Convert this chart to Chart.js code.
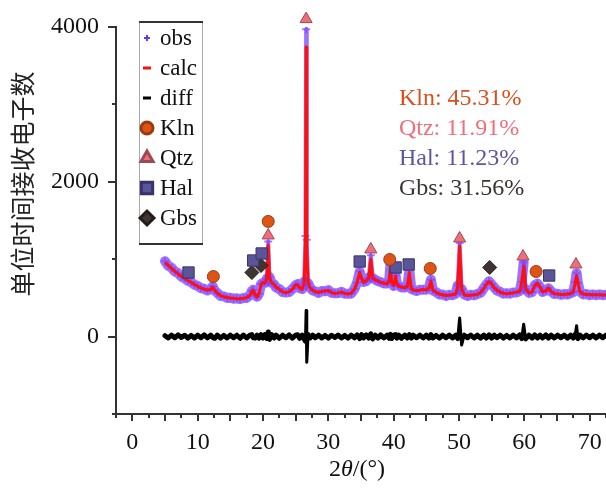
<!DOCTYPE html>
<html>
<head>
<meta charset="utf-8">
<script src="https://cdn.jsdelivr.net/npm/chart.js@4.4.0/dist/chart.umd.min.js"></script>
<style>
  html, body { margin: 0; padding: 0; background: #fff; }
  #wrap { width: 606px; height: 488px; }
</style>
</head>
<body>
<div id="wrap"><canvas id="xrdChart" width="606" height="488"></canvas></div>
<script>
// 2theta positions of the measured profile
const angles = [
  5.0, 5.5, 6.0, 6.5, 7.0, 7.5, 8.0, 8.5, 9.0, 9.5,
  10.0, 10.5, 11.0, 11.5, 12.0, 12.3, 12.6, 13.0, 13.5, 14.0,
  14.5, 15.0, 15.5, 16.0, 16.5, 17.0, 17.5, 18.0, 18.3, 18.5,
  18.8, 19.1, 19.4, 19.7, 20.0, 20.3, 20.6, 20.8, 21.0, 21.3,
  21.7, 22.0, 22.5, 23.0, 23.5, 24.0, 24.5, 25.0, 25.3, 25.6,
  26.0, 26.3, 26.5, 26.6, 26.7, 26.9, 27.2, 27.6, 28.0, 28.5,
  29.0, 29.5, 30.0, 30.5, 31.0, 31.5, 32.0, 32.5, 33.0, 33.5,
  34.0, 34.4, 34.8, 35.1, 35.4, 35.8, 36.2, 36.5, 36.8, 37.2,
  37.6, 38.0, 38.5, 39.0, 39.3, 39.5, 39.7, 40.0, 40.3, 40.5,
  40.8, 41.2, 41.7, 42.1, 42.4, 42.7, 43.0, 43.5, 44.0, 44.5,
  45.0, 45.4, 45.7, 46.0, 46.5, 47.0, 47.5, 48.0, 48.5, 49.0,
  49.5, 49.8, 50.1, 50.4, 50.8, 51.3, 51.8, 52.3, 52.8, 53.3,
  53.8, 54.2, 54.6, 55.0, 55.4, 55.8, 56.3, 56.8, 57.3, 57.8,
  58.3, 58.8, 59.3, 59.6, 59.9, 60.2, 60.7, 61.2, 61.6, 62.0,
  62.4, 62.8, 63.3, 63.7, 64.1, 64.6, 65.1, 65.6, 66.1, 66.6,
  67.1, 67.5, 67.8, 68.0, 68.2, 68.5, 69.0, 69.5, 70.0, 70.5,
  71.0, 71.5, 72.0, 72.5
];

const obsCounts = [
  975, 915, 890, 840, 820, 775, 755, 720, 705, 670,
  655, 625, 618, 595, 615, 650, 595, 565, 525, 520,
  500, 502, 490, 495, 485, 500, 500, 535, 590, 605,
  535, 515, 555, 680, 695, 695, 750, 1230, 770, 695,
  675, 635, 615, 575, 570, 575, 615, 665, 680, 625,
  615, 710, 1300, 3970, 1250, 690, 635, 595, 585, 565,
  590, 585, 600, 565, 560, 560, 580, 555, 555, 555,
  615, 695, 840, 745, 705, 715, 765, 1050, 755, 735,
  715, 705, 685, 685, 715, 930, 705, 655, 790, 675,
  655, 635, 635, 645, 860, 615, 605, 590, 605, 605,
  605, 625, 735, 595, 575, 545, 545, 525, 540, 535,
  555, 660, 1210, 615, 545, 525, 540, 535, 550, 565,
  625, 675, 715, 675, 635, 595, 580, 555, 560, 555,
  570, 570, 590, 710, 960, 615, 565, 575, 665, 685,
  645, 575, 595, 625, 585, 550, 555, 540, 550, 545,
  560, 575, 710, 820, 695, 585, 545, 550, 535, 545,
  535, 545, 535, 540
];

const calcCounts = [
  960, 920, 880, 845, 810, 780, 750, 725, 700, 675,
  650, 630, 612, 600, 610, 640, 600, 560, 530, 515,
  505, 498, 495, 490, 490, 495, 505, 530, 580, 600,
  540, 510, 560, 670, 700, 690, 760, 1180, 760, 700,
  670, 640, 610, 580, 565, 580, 610, 670, 670, 630,
  610, 700, 1200, 3740, 1150, 700, 630, 600, 580, 570,
  585, 590, 595, 570, 555, 565, 575, 560, 550, 560,
  610, 700, 830, 750, 700, 720, 760, 1000, 760, 730,
  720, 700, 690, 680, 720, 900, 700, 660, 780, 680,
  650, 640, 630, 650, 830, 620, 600, 595, 600, 610,
  600, 630, 720, 600, 570, 550, 540, 530, 535, 540,
  550, 650, 1170, 620, 540, 530, 535, 540, 545, 570,
  620, 680, 710, 680, 630, 600, 575, 560, 555, 560,
  565, 575, 585, 700, 910, 620, 560, 580, 660, 690,
  640, 580, 590, 630, 580, 555, 550, 545, 545, 550,
  555, 580, 700, 790, 700, 580, 550, 545, 540, 540,
  540, 540, 538, 538
];

const diffCounts = [
  12, -18, 20, -15, 22, -12, 18, -20, 15, -18,
  18, -15, 22, -18, 20, -12, -22, 18, -20, 15,
  -18, 20, -15, 18, -22, 20, -18, 18, 25, -15,
  -20, 18, -20, 25, -20, 25, -25, 60, -35, 25,
  -18, 20, -22, 18, -15, 22, -20, 18, 25, -22,
  18, -30, -60, 336, -330, 25, -18, 20, -15, 18,
  -18, 15, -20, 18, -12, 20, -18, 15, -20, 18,
  -15, 22, -25, 25, -18, 22, -20, 35, -30, 18,
  -20, 22, -18, 20, -22, 28, -25, 18, 25, -20,
  18, -22, 20, -18, 25, -20, 18, -15, 20, -18,
  18, -20, 25, -18, 15, -20, 18, -15, 20, -18,
  18, -25, 240, -110, 18, -15, 20, -18, 18, -20,
  20, -18, 22, -20, 18, -15, 18, -20, 15, -18,
  20, -18, 22, -25, 160, -30, 18, -20, 22, -18,
  20, -18, 22, -20, 18, -18, 20, -15, 18, -20,
  18, -18, 30, 140, -25, 20, -18, 20, -15, 18,
  -18, 20, -15, 18
];

// phase reflection markers
const klnAngles = [12.4, 20.8, 39.4, 45.6, 61.8];
const klnCounts = [776, 1488, 996, 880, 841];
const qtzAngles = [20.8, 26.6, 36.5, 50.1, 59.8, 67.9];
const qtzCounts = [1307, 4102, 1126, 1268, 1035, 932];
const halAngles = [8.6, 18.5, 19.8, 34.8, 40.3, 42.3, 63.8];
const halCounts = [828, 983, 1074, 970, 893, 932, 789];
const gbsAngles = [18.3, 19.7, 54.7];
const gbsCounts = [828, 919, 893];

const phaseNames = ['Kln', 'Qtz', 'Hal', 'Gbs'];
const phasePercents = [45.31, 11.91, 11.23, 31.56];

const xTickLabels = [0, 10, 20, 30, 40, 50, 60, 70];
const yTickLabels = [0, 2000, 4000];

const serif = "'Liberation Serif', 'Times New Roman', serif";
const phaseColors = {
  Kln: { fill: '#dd5516', line: '#9a3a12', text: '#d9501e' },
  Qtz: { fill: '#ee6e7a', line: '#9c4b55', text: '#ef6f7b' },
  Hal: { fill: '#5a5598', line: '#37346a', text: '#5c58a0' },
  Gbs: { fill: '#3e3430', line: '#231c19', text: '#3b3330' }
};

function pairs(xs, ys) {
  return xs.map((x, i) => ({ x: x, y: ys[i] }));
}

// steep segments (sharp reflections) are drawn thinner
function steepWidth(limit, thin, normal) {
  return c => Math.abs(c.p1.parsed.y - c.p0.parsed.y) > limit ? thin : normal;
}

function markerSet(label, xs, ys, style, radius) {
  return {
    label: label,
    data: pairs(xs, ys),
    pointStyle: style,
    pointRadius: radius,
    backgroundColor: phaseColors[label].fill,
    borderColor: phaseColors[label].line,
    borderWidth: 1,
    showLine: false,
    clip: false,
    order: 0
  };
}

const decorations = {
  id: 'decorations',
  afterDraw(chart) {
    const ctx = chart.ctx;
    const x = chart.scales.x;
    const y = chart.scales.y;
    ctx.save();

    // tick marks
    ctx.strokeStyle = '#333';
    ctx.lineWidth = 2;
    x.ticks.forEach(t => {
      const px = Math.round(x.getPixelForValue(t.value));
      const len = Math.abs(t.value % 5) < 1e-6 ? 7 : 4;
      ctx.beginPath();
      ctx.moveTo(px, x.top);
      ctx.lineTo(px, x.top + len);
      ctx.stroke();
    });
    y.ticks.forEach(t => {
      const py = Math.round(y.getPixelForValue(t.value));
      const len = yTickLabels.includes(t.value) ? 8 : 4;
      ctx.beginPath();
      ctx.moveTo(y.right, py);
      ctx.lineTo(y.right - len, py);
      ctx.stroke();
    });

    // phase fractions
    ctx.font = '24px ' + serif;
    ctx.textAlign = 'left';
    ctx.textBaseline = 'middle';
    const fracY = [3080, 2692, 2303, 1915];
    phaseNames.forEach((name, i) => {
      ctx.fillStyle = phaseColors[name].text;
      ctx.fillText(name + ': ' + phasePercents[i].toFixed(2) + '%',
        x.getPixelForValue(40.8), y.getPixelForValue(fracY[i]));
    });

    // legend box
    const bx = 139, by = 22, bw = 64, bh = 222;
    ctx.fillStyle = '#fff';
    ctx.fillRect(bx, by, bw, bh);
    ctx.strokeStyle = '#aaa';
    ctx.lineWidth = 1;
    ctx.beginPath();
    ctx.moveTo(bx + 0.5, by); ctx.lineTo(bx + 0.5, by + bh);
    ctx.moveTo(bx + bw - 0.5, by); ctx.lineTo(bx + bw - 0.5, by + bh);
    ctx.stroke();
    ctx.strokeStyle = '#333';
    ctx.lineWidth = 2;
    ctx.beginPath();
    ctx.moveTo(bx, by); ctx.lineTo(bx + bw, by);
    ctx.moveTo(bx, by + bh); ctx.lineTo(bx + bw, by + bh);
    ctx.stroke();

    ctx.font = '23px ' + serif;
    ctx.textBaseline = 'middle';
    chart.data.datasets.forEach((ds, i) => {
      const cy = 38 + 30 * i;
      const cx = 147;
      if (ds.label === 'obs') {
        ctx.strokeStyle = '#6a35f5';
        ctx.lineWidth = 2;
        ctx.beginPath();
        ctx.moveTo(cx - 3, cy); ctx.lineTo(cx + 3, cy);
        ctx.moveTo(cx, cy - 3); ctx.lineTo(cx, cy + 3);
        ctx.stroke();
      } else if (ds.label === 'calc' || ds.label === 'diff') {
        ctx.strokeStyle = ds.borderColor;
        ctx.lineWidth = 3;
        ctx.beginPath();
        ctx.moveTo(cx - 4, cy); ctx.lineTo(cx + 4, cy);
        ctx.stroke();
      } else {
        ctx.fillStyle = ds.backgroundColor;
        ctx.strokeStyle = ds.borderColor;
        Chart.helpers.drawPoint(ctx, {
          pointStyle: ds.pointStyle, radius: ds.pointRadius, borderWidth: 1, rotation: 0
        }, cx, cy);
      }
      ctx.fillStyle = '#111';
      ctx.fillText(ds.label, 160, cy + 1);
    });

    // axis titles
    ctx.fillStyle = '#222';
    ctx.font = "25px 'Noto Sans CJK SC', sans-serif";
    ctx.save();
    ctx.translate(22, 184);
    ctx.rotate(-Math.PI / 2);
    ctx.textAlign = 'center';
    ctx.fillText('单位时间接收电子数', 0, 0);
    ctx.restore();

    const parts = [['2', ''], ['θ', 'italic '], ['/(°)', '']];
    let total = 0;
    parts.forEach(p => { ctx.font = p[1] + '24px ' + serif; total += ctx.measureText(p[0]).width; });
    let tx = (x.left + x.right) / 2 - total / 2 - 4;
    ctx.textAlign = 'left';
    ctx.fillStyle = '#111';
    parts.forEach(p => {
      ctx.font = p[1] + '24px ' + serif;
      ctx.fillText(p[0], tx, 470);
      tx += ctx.measureText(p[0]).width;
    });
    ctx.restore();
  }
};

const ctx = document.getElementById('xrdChart').getContext('2d');
new Chart(ctx, {
  type: 'scatter',
  data: {
    datasets: [
      {
        label: 'obs',
        data: pairs(angles, obsCounts),
        showLine: true,
        borderColor: 'rgba(108, 48, 255, 0.68)',
        borderWidth: 10,
        segment: { borderWidth: steepWidth(250, 4, 10) },
        borderJoinStyle: 'round',
        borderCapStyle: 'round',
        pointStyle: 'cross',
        pointRadius: 4,
        pointBorderWidth: 2,
        pointBorderColor: 'rgba(140, 70, 255, 0.7)',
        pointBackgroundColor: 'rgba(140, 70, 255, 0.7)',
        order: 2
      },
      {
        label: 'calc',
        data: pairs(angles, calcCounts),
        showLine: true,
        borderColor: '#ff1010',
        borderWidth: 3,
        borderJoinStyle: 'round',
        pointRadius: 0,
        order: 1
      },
      {
        label: 'diff',
        data: pairs(angles, diffCounts),
        showLine: true,
        borderColor: '#000',
        borderWidth: 5,
        segment: { borderWidth: steepWidth(90, 3, 5) },
        borderJoinStyle: 'round',
        borderCapStyle: 'round',
        pointRadius: 0,
        order: 3
      },
      markerSet('Kln', klnAngles, klnCounts, 'circle', 6),
      markerSet('Qtz', qtzAngles, qtzCounts, 'triangle', 7),
      markerSet('Hal', halAngles, halCounts, 'rect', 8),
      markerSet('Gbs', gbsAngles, gbsCounts, 'rectRot', 7)
    ]
  },
  options: {
    responsive: false,
    animation: false,
    layout: { autoPadding: false, padding: { top: 27, right: 0, left: 0, bottom: 0 } },
    plugins: {
      legend: { display: false },
      tooltip: { enabled: false }
    },
    scales: {
      x: {
        type: 'linear',
        min: -2.5,
        max: 72.5,
        afterFit: s => { s.height = 74; s.paddingLeft = 0; s.paddingRight = 0; },
        afterBuildTicks: s => {
          const t = [];
          for (let v = -2.5; v <= 72.5; v += 2.5) t.push({ value: v });
          s.ticks = t;
        },
        grid: { display: false, drawTicks: false },
        border: { display: true, color: '#333', width: 2 },
        ticks: {
          padding: 14,
          color: '#111',
          font: { family: serif, size: 24 },
          maxRotation: 0,
          autoSkip: false,
          callback: v => xTickLabels.includes(v) ? String(v) : ''
        }
      },
      y: {
        min: -1000,
        max: 4000,
        afterFit: s => { s.width = 116; s.paddingTop = 0; s.paddingBottom = 0; },
        afterBuildTicks: s => {
          s.ticks = [-1000, 0, 1000, 2000, 3000, 4000].map(v => ({ value: v }));
        },
        grid: { display: false, drawTicks: false },
        border: { display: true, color: '#333', width: 2 },
        ticks: {
          padding: 17,
          color: '#111',
          font: { family: serif, size: 24 },
          autoSkip: false,
          callback: v => yTickLabels.includes(v) ? String(v) : ''
        }
      }
    }
  },
  plugins: [decorations]
});
</script>
</body>
</html>
